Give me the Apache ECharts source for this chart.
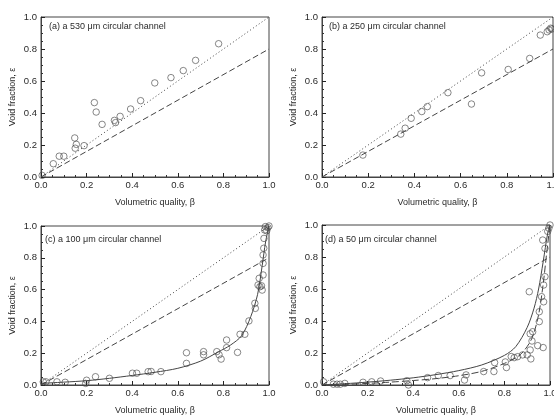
<!DOCTYPE html>
<html>
<head>
<meta charset="utf-8">
<script src="https://cdn.jsdelivr.net/npm/echarts@6/dist/echarts.min.js"></script>
<style>
  html, body { margin: 0; padding: 0; background: #fff; }
  #main { width: 554px; height: 416px; }
</style>
</head>
<body>
<div id="main"></div>
<script>
// reference lines (homogeneous and Armand)
var homogLine = [[0, 0], [1, 1]];
var armandLine = [[0, 0], [1, 0.8]];

// (a) 530 um
var aBeta = [0.005, 0.054, 0.08, 0.10, 0.148, 0.155, 0.15, 0.189, 0.234, 0.242, 0.268, 0.322, 0.327, 0.347, 0.393, 0.437, 0.499, 0.570, 0.624, 0.678, 0.779];
var aEps  = [0.01, 0.083, 0.13, 0.13, 0.244, 0.204, 0.18, 0.196, 0.465, 0.406, 0.329, 0.354, 0.34, 0.379, 0.425, 0.477, 0.588, 0.621, 0.665, 0.729, 0.833];

// (b) 250 um
var bBeta = [0.177, 0.341, 0.36, 0.386, 0.432, 0.456, 0.545, 0.647, 0.691, 0.806, 0.899, 0.945, 0.975, 0.983, 0.99, 0.995];
var bEps  = [0.137, 0.268, 0.305, 0.367, 0.409, 0.44, 0.527, 0.456, 0.651, 0.672, 0.741, 0.887, 0.908, 0.919, 0.93, 0.925];

// (c) 100 um
var cBeta = [0.01, 0.022, 0.07, 0.106, 0.196, 0.2, 0.239, 0.3, 0.401, 0.42, 0.47, 0.483, 0.526, 0.638, 0.638,
             0.713, 0.713, 0.771, 0.781, 0.79, 0.814, 0.814, 0.862, 0.873, 0.894, 0.912, 0.938, 0.94,
             0.952, 0.96, 0.967, 0.97, 0.957, 0.974, 0.974, 0.974, 0.977, 0.978, 0.981, 0.984, 0.99, 0.995, 1.0];
var cEps  = [0.02, 0.02, 0.02, 0.017, 0.01, 0.03, 0.052, 0.042, 0.074, 0.074, 0.084, 0.085, 0.084, 0.203, 0.136,
             0.21, 0.19, 0.21, 0.19, 0.163, 0.283, 0.235, 0.205, 0.319, 0.319, 0.403, 0.514, 0.482,
             0.629, 0.618, 0.624, 0.597, 0.671, 0.692, 0.765, 0.818, 0.86, 0.922, 0.975, 0.996, 0.97, 0.99, 1.0];
var cFitBeta = [0, 0.1, 0.2, 0.3, 0.4, 0.5, 0.6, 0.7, 0.78, 0.83, 0.88, 0.92, 0.95, 0.97, 0.985, 1.0];
var cFitEps  = [0.01, 0.018, 0.027, 0.042, 0.06, 0.08, 0.105, 0.15, 0.21, 0.25, 0.31, 0.43, 0.57, 0.75, 0.9, 1.0];

// (d) 50 um
var dBeta = [0.007, 0.05, 0.066, 0.08, 0.10, 0.18, 0.218, 0.257, 0.372, 0.379, 0.463, 0.51, 0.562, 0.625, 0.632,
             0.709, 0.754, 0.757, 0.804, 0.809, 0.83, 0.843, 0.858, 0.88, 0.9, 0.909, 0.913, 0.913, 0.916, 0.921,
             0.924, 0.946, 0.953, 0.953, 0.963, 0.972, 0.972, 0.978, 0.978, 0.968, 0.97, 0.99, 0.995, 1.0];
var dEps  = [0.02, 0.005, 0.005, 0.005, 0.01, 0.017, 0.02, 0.025, 0.027, 0.0, 0.046, 0.059, 0.059, 0.031, 0.063,
             0.084, 0.084, 0.14, 0.144, 0.109, 0.178, 0.171, 0.177, 0.188, 0.188, 0.583, 0.32, 0.219, 0.163, 0.275,
             0.333, 0.246, 0.458, 0.396, 0.552, 0.52, 0.625, 0.677, 0.854, 0.906, 0.234, 0.96, 0.98, 1.0];
var dFitBeta  = [0, 0.1, 0.2, 0.3, 0.4, 0.5, 0.6, 0.7, 0.8, 0.85, 0.9, 0.93, 0.95, 0.97, 0.99, 1.0];
var dFitEps   = [0, 0.008, 0.018, 0.03, 0.045, 0.065, 0.09, 0.125, 0.185, 0.24, 0.36, 0.48, 0.6, 0.77, 0.95, 1.0];
var dFit2Beta = [0, 0.1, 0.2, 0.3, 0.4, 0.5, 0.6, 0.7, 0.8, 0.87, 0.92, 0.95, 0.97, 0.985, 1.0];
var dFit2Eps  = [0, 0.004, 0.01, 0.018, 0.028, 0.04, 0.058, 0.085, 0.135, 0.19, 0.29, 0.44, 0.63, 0.82, 1.0];

var panelTitles = ['(a) a 530 \u03bcm circular channel', '(b) a 250 \u03bcm circular channel',
                   '(c) a 100 \u03bcm circular channel', '(d) a 50 \u03bcm circular channel'];

function pairs(xs, ys) {
  var out = [];
  for (var i = 0; i < xs.length; i++) out.push([xs[i], ys[i]]);
  return out;
}

var chartDom = document.getElementById('main');
var myChart = echarts.init(chartDom);
var option;

var lineColor = '#444';
var textColor = '#2a2a2a';

// each panel framed by the grid border
var gridBox = [
  [41, 17, 228, 160],
  [322, 17, 231, 160],
  [41, 226, 228, 159],
  [322, 225, 228, 160]
];
var grids = gridBox.map(function (b) {
  return {
    left: b[0], top: b[1], width: b[2], height: b[3],
    outerBoundsMode: 'none',
    show: true, borderColor: lineColor, borderWidth: 1, backgroundColor: 'transparent'
  };
});
var titlePos = [[49, 22], [329, 22], [45, 235], [325, 235]];

function makeAxis(i, isX) {
  return {
    type: 'value',
    gridIndex: i,
    min: 0,
    max: 1,
    interval: 0.2,
    name: isX ? 'Volumetric quality, \u03b2' : 'Void fraction, \u03b5',
    nameLocation: 'middle',
    nameGap: isX ? 21 : 24,
    nameTextStyle: { color: textColor, fontSize: 9, fontFamily: 'Liberation Sans' },
    axisLine: { show: true, onZero: false, lineStyle: { color: lineColor, width: 1 } },
    axisTick: { show: true, inside: true, length: 4, lineStyle: { color: '#222', width: 1 } },
    minorTick: { show: true, splitNumber: 4, length: 2, lineStyle: { color: '#333', width: 1 } },
    splitLine: { show: false },
    axisLabel: {
      color: textColor,
      fontSize: 9.5,
      fontFamily: 'Liberation Sans',
      margin: isX ? 3 : 4,
      formatter: function (v) { return v.toFixed(1); }
    }
  };
}

var xAxes = [], yAxes = [];
for (var i = 0; i < 4; i++) {
  xAxes.push(makeAxis(i, true));
  yAxes.push(makeAxis(i, false));
}

var series = [];
function addLine(i, data, type, smooth) {
  series.push({
    type: 'line', xAxisIndex: i, yAxisIndex: i, data: data,
    showSymbol: false, smooth: smooth ? 0.3 : false, silent: true,
    lineStyle: { color: '#444', width: 1, type: type }
  });
}
function addScatter(i, data) {
  series.push({
    type: 'scatter', xAxisIndex: i, yAxisIndex: i, data: data,
    symbol: 'circle', symbolSize: 6.5,
    itemStyle: { color: 'rgba(255,255,255,0)', borderColor: '#444', borderWidth: 0.8 }
  });
}

for (var k = 0; k < 4; k++) {
  addLine(k, homogLine, [1, 2.5], false);
  addLine(k, armandLine, [6, 3], false);
}
addScatter(0, pairs(aBeta, aEps));
addScatter(1, pairs(bBeta, bEps));
addLine(2, pairs(cFitBeta, cFitEps), 'solid', true);
addScatter(2, pairs(cBeta, cEps));
addLine(3, pairs(dFitBeta, dFitEps), 'solid', true);
addLine(3, pairs(dFit2Beta, dFit2Eps), [7, 3], true);
addScatter(3, pairs(dBeta, dEps));

option = {
  backgroundColor: '#fff',
  animation: false,
  title: panelTitles.map(function (t, j) {
    return {
      text: t, left: titlePos[j][0], top: titlePos[j][1], padding: 0,
      textStyle: { color: textColor, fontSize: 9, fontWeight: 'normal', fontFamily: 'Liberation Sans' }
    };
  }),
  grid: grids,
  xAxis: xAxes,
  yAxis: yAxes,
  series: series
};

option && myChart.setOption(option);

window.addEventListener('resize', function () {
  myChart.resize();
});
</script>
</body>
</html>
